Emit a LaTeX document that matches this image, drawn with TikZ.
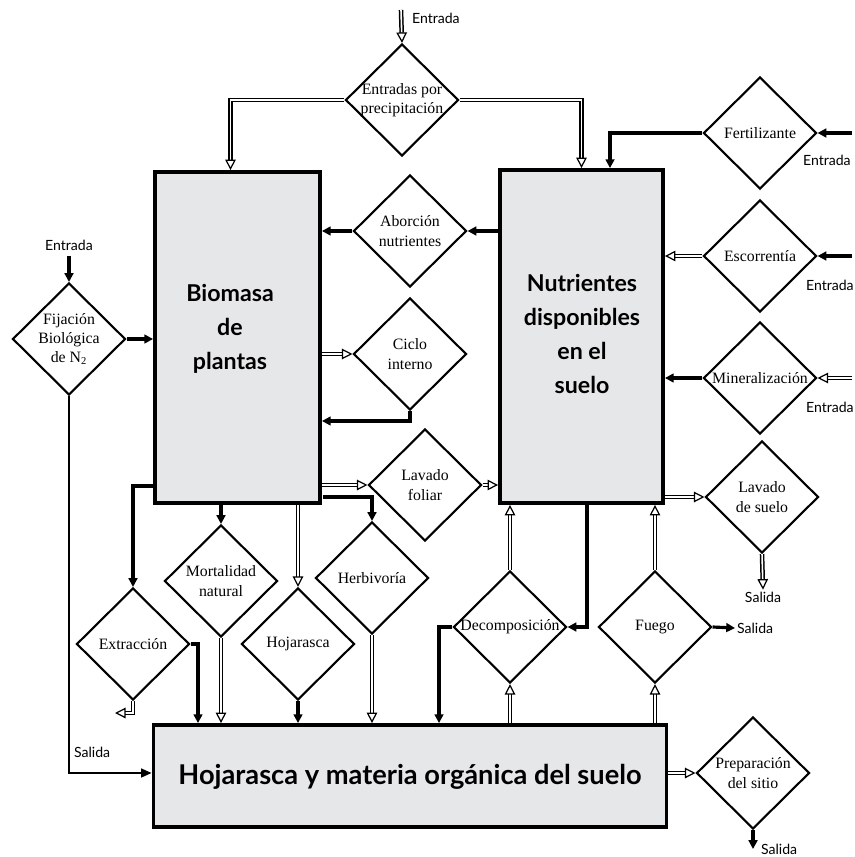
\documentclass[tikz,border=0pt]{standalone}
\usepackage{fontspec}
\setmainfont{Liberation Serif}
\newfontfamily\gill{Lato}
\usetikzlibrary{shapes.geometric,arrows.meta,calc}
\definecolor{boxgray}{HTML}{E6E7E8}
\begin{document}
\begin{tikzpicture}[x=0.02cm,y=-0.02cm,
  dia/.style={draw, line width=1.2pt, diamond, minimum width=2.26cm, minimum height=2.24cm, inner sep=0pt},
  dtext/.style={align=center, font=\fontsize{9}{11}\selectfont, inner sep=0pt},
  bigbox/.style={draw, line width=2.2pt, fill=boxgray, inner sep=0pt},
  btext/.style={align=center, font=\gill\bfseries\fontsize{13.2}{19.5}\selectfont, inner sep=0pt},
  lbl/.style={font=\gill\fontsize{8}{9}\selectfont, inner sep=1pt},
  ta/.style={line width=1.8pt, -{Triangle[length=5pt,width=5pt]}},
  da/.style={double, double distance=0.9pt, line width=0.85pt, -{Triangle[open,length=6pt,width=6pt,line width=0.7pt]}},
  tn/.style={line width=1.2pt, -{Triangle[length=6pt,width=5pt]}}
]
\useasboundingbox (0,0) rectangle (854,857);

% boxes
\node[bigbox, minimum width=3.30cm, minimum height=6.62cm] (bio) at (237.5,337.5) {};
\node[bigbox, minimum width=3.26cm, minimum height=6.66cm] (nut) at (581.5,336.5) {};
\node[bigbox, minimum width=10.26cm, minimum height=2.04cm] (hoj) at (410,776) {};
\node[btext] (biot) at (230,329) {Biomasa\\de\\plantas};
\node[btext] (nutt) at (582,334) {Nutrientes\\disponibles\\en el\\suelo};
\node[btext, font=\gill\bfseries\fontsize{15.5}{19}\selectfont] (hojt) at (410,777) {Hojarasca y materia orgánica del suelo};

% diamonds
\node[dia] (prec) at (402,100) {};
\node[dtext] at (prec) {Entradas por\\precipitación};
\node[dia] (fert) at (760,133) {};
\node[dtext] at (fert) {Fertilizante};
\node[dia] (esc) at (760,256) {};
\node[dtext] at (esc) {Escorrentía};
\node[dia] (min) at (760,378) {};
\node[dtext] at (min) {Mineralización};
\node[dia] (lsu) at (762,497) {};
\node[dtext] at (lsu) {Lavado\\de suelo};
\node[dia] (abs) at (410,231) {};
\node[dtext] at (abs) {Aborción\\nutrientes};
\node[dia] (cic) at (410,354) {};
\node[dtext] at (cic) {Ciclo\\interno};
\node[dia] (lfo) at (425,485) {};
\node[dtext] at (lfo) {Lavado\\foliar};
\node[dia] (fij) at (69,339) {};
\node[dtext] at (fij) {Fijación\\Biológica\\de N\textsubscript{2}};
\node[dia] (ext) at (133,644) {};
\node[dtext] at (ext) {Extracción};
\node[dia] (mor) at (221,581) {};
\node[dtext] at (mor) {Mortalidad\\natural};
\node[dia] (hjd) at (298,644) {};
\node[dtext] at (hjd) {Hojarasca};
\node[dia] (her) at (372,578) {};
\node[dtext] at (her) {Herbivoría};
\node[dia] (dec) at (510,627) {};
\node[dtext] at (dec) {Decomposición};
\node[dia] (fue) at (655,627) {};
\node[dtext] at (fue) {Fuego};
\node[dia] (pre) at (753,773) {};
\node[dtext] at (pre) {Preparación\\del sitio};

% labels
\node[lbl, anchor=west] (ent1) at (410,18) {Entrada};
\node[lbl, anchor=west] (ent2) at (801,160) {Entrada};
\node[lbl, anchor=west] (ent3) at (804,285) {Entrada};
\node[lbl, anchor=west] (ent4) at (804,407) {Entrada};
\node[lbl] (ent5) at (69,245) {Entrada};
\node[lbl] (sal1) at (763,597) {Salida};
\node[lbl, anchor=west] (sal2) at (735,628) {Salida};
\node[lbl, anchor=west] (sal3) at (72,752) {Salida};
\node[lbl, anchor=west] (sal4) at (759,849) {Salida};

% coordinates
\coordinate (t1) at (401,10);
\coordinate (r1) at (852,133);
\coordinate (r2) at (852,256);
\coordinate (r3) at (852,378);
\coordinate (l1) at (69,256);
\coordinate (f1) at (69,773);
\coordinate (c1) at (410,421);
\coordinate (h1) at (323,497);
\coordinate (e0) at (155,486);
\coordinate (e2) at (198,644);
\coordinate (e3) at (133,713);
\coordinate (e4) at (115,713);
\coordinate (d1) at (587,627);
\coordinate (d2) at (439,627);
\coordinate (p1) at (753,849);
\coordinate (fz) at (610,133);

% connectors
\draw[da] (t1) -- (prec.north);
\draw[da] (prec.west) -| ($(bio.north)+(-7,0)$);
\draw[da] (prec.east) -| (nut.north);
\draw[ta] (fert.west) -- (fz) -- (fz |- nut.north);
\draw[ta] (r1) -- (fert.east);
\draw[da] (esc.west) -- (esc.west -| nut.east);
\draw[ta] (r2) -- (esc.east);
\draw[ta] (min.west) -- (min.west -| nut.east);
\draw[da] (r3) -- (min.east);
\draw[da] (lsu.west -| nut.east) -- (lsu.west);
\draw[da] (lsu.south) -- (sal1.north);
\draw[ta] (abs.east -| nut.west) -- (abs.east);
\draw[ta] (abs.west) -- (abs.west -| bio.east);
\draw[da] (cic.west -| bio.east) -- (cic.west);
\draw[ta] (cic.south) -- (c1) -- (c1 -| bio.east);
\draw[da] (lfo.west -| bio.east) -- (lfo.west);
\draw[da] (lfo.east) -- (lfo.east -| nut.west);
\draw[ta] (l1) -- (fij.north);
\draw[ta] (fij.east) -- (fij.east -| bio.west);
\draw[tn] (fij.south) -- (f1) -- (f1 -| hoj.west);
\draw[ta] (e0) -| (ext.north);
\draw[da] (ext.south) -- (e3) -- (e4);
\draw[ta] (ext.east) -- (e2) -- (e2 |- hoj.north);
\draw[ta] (mor.north |- bio.south) -- (mor.north);
\draw[da] (mor.south) -- (mor.south |- hoj.north);
\draw[da] (hjd.north |- bio.south) -- (hjd.north);
\draw[ta] (hjd.south) -- (hjd.south |- hoj.north);
\draw[ta] (h1) -| (her.north);
\draw[da] (her.south) -- (her.south |- hoj.north);
\draw[da] (dec.north) -- (dec.north |- nut.south);
\draw[da] (dec.south |- hoj.north) -- (dec.south);
\draw[ta] (d1 |- nut.south) -- (d1) -- (dec.east);
\draw[ta] (dec.west) -- (d2) -- (d2 |- hoj.north);
\draw[da] (fue.north) -- (fue.north |- nut.south);
\draw[da] (fue.south |- hoj.north) -- (fue.south);
\draw[ta] (fue.east) -- (sal2.west);
\draw[da] (pre.west -| hoj.east) -- (pre.west);
\draw[ta] (pre.south) -- (p1);
\end{tikzpicture}
\end{document}
